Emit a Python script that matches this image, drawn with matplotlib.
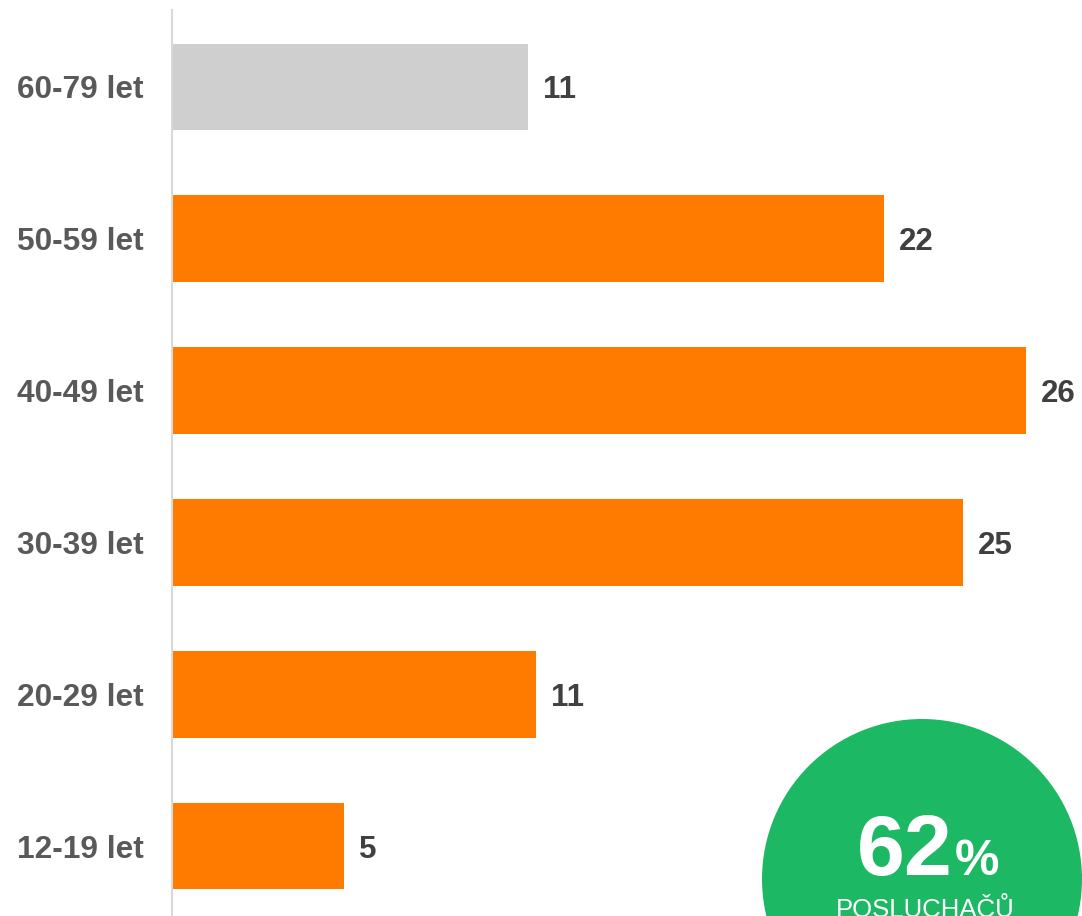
import matplotlib
matplotlib.use("Agg")
import matplotlib.pyplot as plt
from matplotlib.patches import Circle

categories = ["12-19 let", "20-29 let", "30-39 let", "40-49 let", "50-59 let", "60-79 let"]
values = [5.2, 11.07, 24.09, 26.0, 21.68, 10.82]
value_labels = ["5", "11", "25", "26", "22", "11"]
bar_colors = ["#FF7B00", "#FF7B00", "#FF7B00", "#FF7B00", "#FF7B00", "#D0CFD0"]
badge_value = "62"
badge_unit = "%"
badge_text = "POSLUCHAČŮ"

plt.rcParams['font.family'] = ['Liberation Sans', 'DejaVu Sans']

W, H = 1082, 916
fig = plt.figure(figsize=(W / 100, H / 100), dpi=100)

px_per_unit = 32.8
ax_left = 172
ax_top = 10
ax = fig.add_axes([ax_left / W, 0, (W - ax_left) / W, (H - ax_top) / H])
ax.set_xlim(0, (W - ax_left) / px_per_unit)
step = 151.8
ax.set_ylim(-(916 - 846) / step, 5 + (87 - 10) / step)

ypos = list(range(len(categories)))
ax.barh(ypos, values, height=0.573, color=bar_colors, left=0.03)
for y, v, lab in zip(ypos, values, value_labels):
    ax.annotate(lab, (v, y), xytext=(16, 0), textcoords='offset pixels',
                va='center_baseline', ha='left', fontsize=22.5, fontweight='bold', color='#404040')

ax.set_yticks(ypos)
ax.set_yticklabels(categories, fontsize=22.8, fontweight='bold', color='#595959')
ax.tick_params(axis='y', length=0, pad=20.5)
ax.set_xticks([])
for s in ['top', 'right', 'bottom']:
    ax.spines[s].set_visible(False)
ax.spines['left'].set_color('#D9D9D9')
ax.spines['left'].set_linewidth(1.5)

ov = fig.add_axes([0, 0, 1, 1], zorder=5)
ov.set_xlim(0, W)
ov.set_ylim(H, 0)
ov.axis('off')
ov.patch.set_alpha(0)
ov.add_patch(Circle((922, 879), 160, color='#1DB863', lw=0))
ov.text(953, 875, badge_value, ha='right', va='baseline', fontsize=62,
        fontweight='bold', color='white')
ov.text(955, 875, badge_unit, ha='left', va='baseline', fontsize=36,
        fontweight='bold', color='white')
ov.text(925, 917, badge_text, ha='center', va='baseline', fontsize=18.5,
        color='white')

fig.savefig("out.png", dpi=100)
